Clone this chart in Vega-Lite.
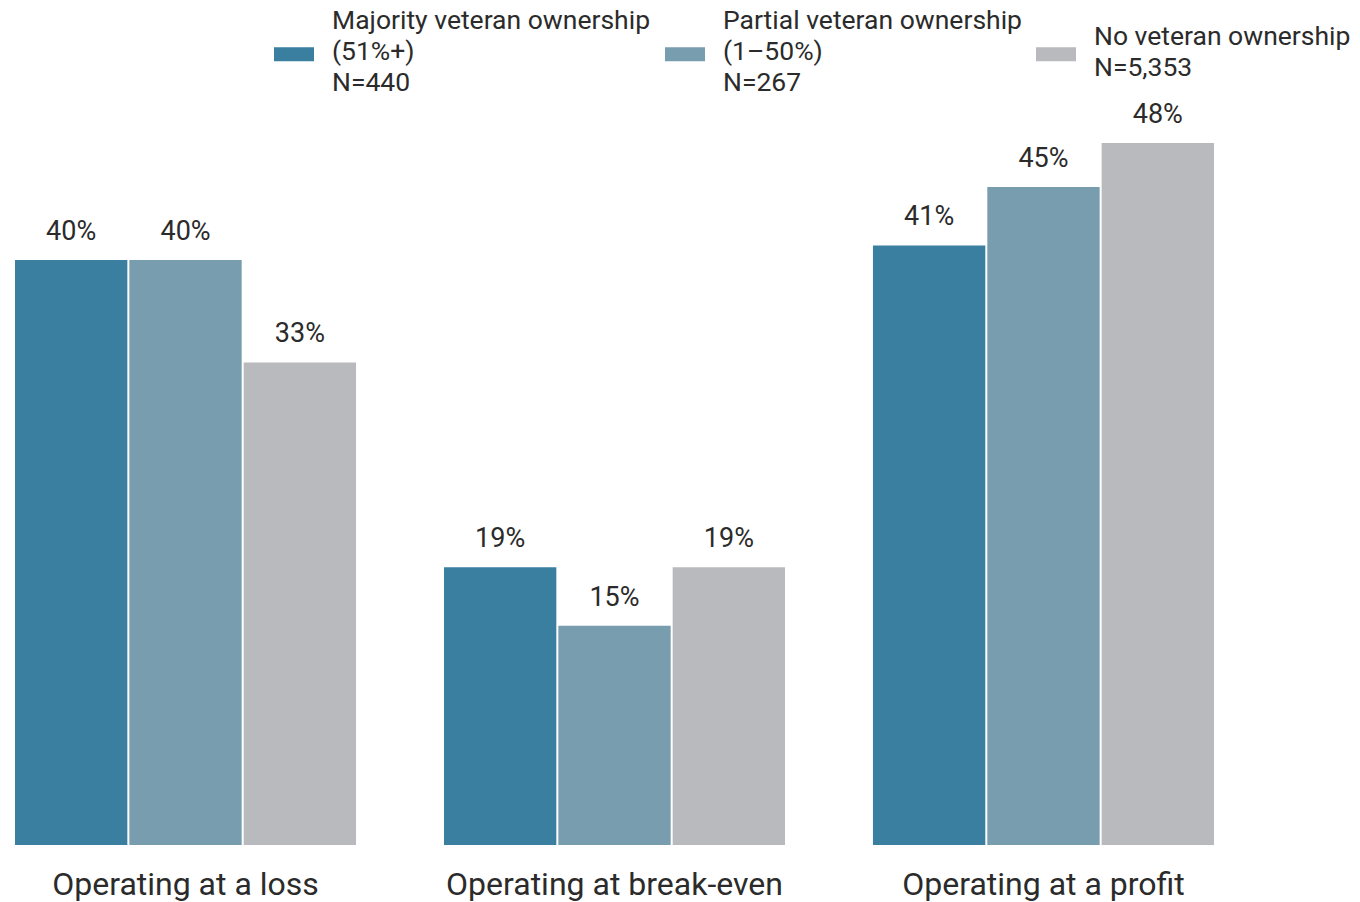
{
  "$schema": "https://vega.github.io/schema/vega-lite/v6.json",
  "width": 1199,
  "height": 702,
  "autosize": {"type": "none"},
  "padding": {"left": 15, "top": 143, "right": 146, "bottom": 57},
  "background": "white",
  "config": {
    "view": {"stroke": null},
    "font": "Roboto",
    "style": {"guide-label": {"lineHeight": 15.5}}
  },
  "data": {
    "values": [
      {"category": "Operating at a loss", "group": "Majority veteran ownership|\u2800|(51%+)|\u2800|N=440", "value": 0.40},
      {"category": "Operating at a loss", "group": "Partial veteran ownership|\u2800|(1–50%)|\u2800|N=267", "value": 0.40},
      {"category": "Operating at a loss", "group": "\u2800|No veteran ownership|\u2800|N=5,353|\u2800", "value": 0.33},
      {"category": "Operating at break-even", "group": "Majority veteran ownership|\u2800|(51%+)|\u2800|N=440", "value": 0.19},
      {"category": "Operating at break-even", "group": "Partial veteran ownership|\u2800|(1–50%)|\u2800|N=267", "value": 0.15},
      {"category": "Operating at break-even", "group": "\u2800|No veteran ownership|\u2800|N=5,353|\u2800", "value": 0.19},
      {"category": "Operating at a profit", "group": "Majority veteran ownership|\u2800|(51%+)|\u2800|N=440", "value": 0.41},
      {"category": "Operating at a profit", "group": "Partial veteran ownership|\u2800|(1–50%)|\u2800|N=267", "value": 0.45},
      {"category": "Operating at a profit", "group": "\u2800|No veteran ownership|\u2800|N=5,353|\u2800", "value": 0.48}
    ]
  },
  "encoding": {
    "x": {
      "field": "category",
      "type": "nominal",
      "sort": ["Operating at a loss", "Operating at break-even", "Operating at a profit"],
      "scale": {"paddingInner": 0.205, "paddingOuter": 0},
      "axis": {
        "title": null,
        "domain": false,
        "ticks": false,
        "labelAngle": 0,
        "labelFontSize": 32,
        "labelColor": "#2b2b2b",
        "labelPadding": 24,
        "labelLimit": 0
      }
    },
    "xOffset": {
      "field": "group",
      "type": "nominal",
      "sort": ["Majority veteran ownership|\u2800|(51%+)|\u2800|N=440", "Partial veteran ownership|\u2800|(1–50%)|\u2800|N=267", "\u2800|No veteran ownership|\u2800|N=5,353|\u2800"],
      "scale": {"paddingInner": 0.0175, "paddingOuter": 0}
    },
    "y": {
      "field": "value",
      "type": "quantitative",
      "scale": {"domain": [0, 0.48], "nice": false, "zero": true},
      "axis": null
    }
  },
  "layer": [
    {
      "mark": {"type": "bar"},
      "encoding": {
        "color": {
          "field": "group",
          "type": "nominal",
          "sort": ["Majority veteran ownership|\u2800|(51%+)|\u2800|N=440", "Partial veteran ownership|\u2800|(1–50%)|\u2800|N=267", "\u2800|No veteran ownership|\u2800|N=5,353|\u2800"],
          "scale": {
            "domain": ["Majority veteran ownership|\u2800|(51%+)|\u2800|N=440", "Partial veteran ownership|\u2800|(1–50%)|\u2800|N=267", "\u2800|No veteran ownership|\u2800|N=5,353|\u2800"],
            "range": ["#3a7ea0", "#789daf", "#b9babe"]
          },
          "legend": {
            "title": null,
            "orient": "none",
            "legendX": 259,
            "legendY": -142,
            "direction": "horizontal",
            "columns": 3,
            "columnPadding": 14,
            "symbolType": "M-1,1.3L1,1.3L1,2.0L-1,2.0Z",
            "symbolSize": 1600,
            "symbolStrokeWidth": 0,
            "symbolOpacity": 1,
            "labelFontSize": 26.5,
            "labelColor": "#2b2b2b",
            "labelOffset": 18,
            "labelLimit": 0,
            "labelBaseline": "middle",
            "labelExpr": "split(datum.label, '|')"
          }
        }
      }
    },
    {
      "mark": {"type": "text", "baseline": "alphabetic", "dy": -20, "fontSize": 27, "color": "#2b2b2b"},
      "encoding": {
        "text": {"field": "value", "type": "quantitative", "format": ".0%"},
        "detail": {"field": "group"}
      }
    }
  ]
}
